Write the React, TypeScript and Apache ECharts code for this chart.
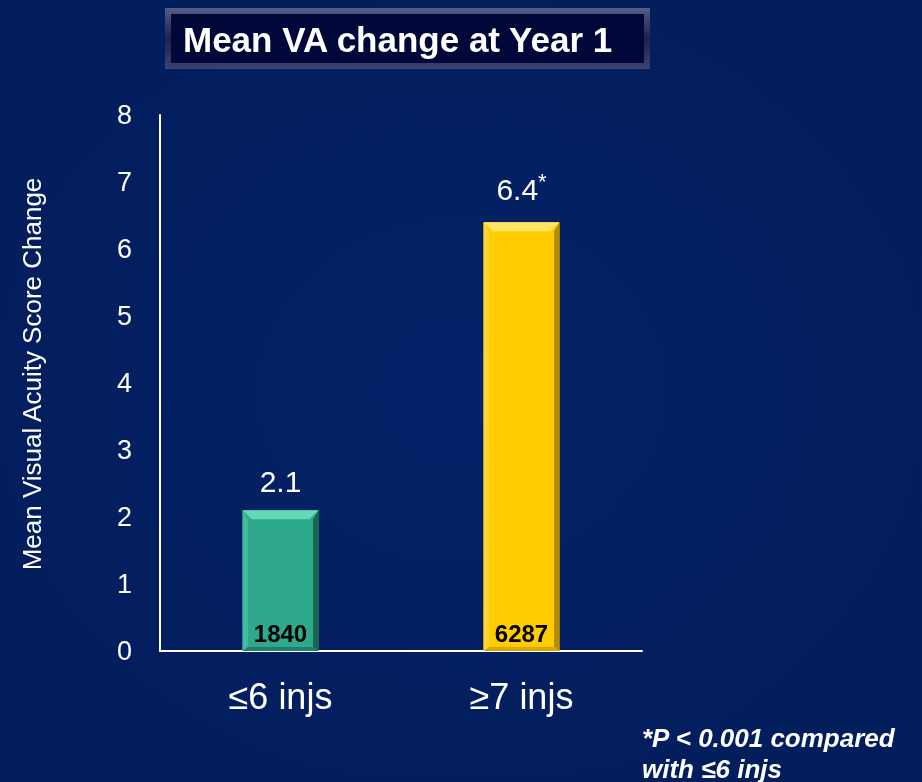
import React, { useEffect, useRef } from "react";
import * as echarts from "echarts";

const categories = ["≤6 injs", "≥7 injs"];
const meanChange = [2.1, 6.4];
const patientCounts = [1840, 6287];
const significance = ["", "*"];
const yTicks = { min: 0, max: 8, interval: 1 };

const barColors = [
  { main: "#2ea98c", top: "#63d9b8", left: "#45bb9f", right: "#176450", bottom: "#1f7f69" },
  { main: "#ffcc00", top: "#ffe566", left: "#ffd633", right: "#b58c00", bottom: "#d9a800" },
];

export default function App() {
  const ref = useRef<HTMLDivElement>(null);
  useEffect(() => {
    const chart = echarts.init(ref.current!, null, { renderer: "svg" });
    const BW = 0.315;
    const FF = "'Liberation Sans', Arial, sans-serif";
    chart.setOption({
      animation: false,
      backgroundColor: {
        type: "radial",
        x: 0.5,
        y: 0.5,
        r: 0.8,
        colorStops: [
          { offset: 0, color: "#042268" },
          { offset: 1, color: "#021c58" },
        ],
      },
      textStyle: { fontFamily: FF },
      graphic: [
        {
          type: "rect",
          shape: { x: 165, y: 8, width: 485, height: 61 },
          style: {
            fill: {
              type: "linear",
              x: 0, y: 0, x2: 0, y2: 1,
              colorStops: [
                { offset: 0, color: "#555c86" },
                { offset: 0.5, color: "#1c2152" },
                { offset: 1, color: "#3c4270" },
              ],
            },
          },
          z: 1,
        },
        {
          type: "rect",
          shape: { x: 171, y: 14, width: 473, height: 49 },
          style: { fill: "#020739" },
          z: 2,
        },
        {
          type: "text",
          x: 183,
          y: 39,
          style: {
            text: "Mean VA change at Year 1",
            fill: "#ffffff",
            font: "bold 35px " + FF,
            verticalAlign: "middle",
          },
          z: 3,
        },
        {
          type: "text",
          x: 32,
          y: 374,
          rotation: Math.PI / 2,
          style: {
            text: "Mean Visual Acuity Score Change",
            fill: "#ffffff",
            font: "26px " + FF,
            align: "center",
            verticalAlign: "middle",
          },
        },
        {
          type: "text",
          x: 642,
          y: 722,
          style: {
            text: "*P < 0.001 compared\nwith ≤6 injs",
            fill: "#ffffff",
            font: "italic bold 26px " + FF,
            lineHeight: 31,
          },
        },
      ],
      grid: { left: 160, right: 280, top: 115, bottom: 131, containLabel: false },
      xAxis: {
        type: "category",
        data: categories,
        axisLine: { lineStyle: { color: "#ffffff", width: 2 } },
        axisTick: { show: false },
        axisLabel: { color: "#ffffff", fontSize: 36, margin: 27 },
      },
      yAxis: {
        type: "value",
        min: yTicks.min,
        max: yTicks.max,
        interval: yTicks.interval,
        axisLine: { show: true, lineStyle: { color: "#ffffff", width: 2 } },
        axisTick: { show: false },
        splitLine: { show: false },
        axisLabel: { color: "#ffffff", fontSize: 27, margin: 28 },
      },
      series: [
        {
          type: "bar",
          barWidth: BW * 100 + "%",
          data: meanChange.map((v, i) => ({
            value: v,
            itemStyle: { color: barColors[i].main },
          })),
          label: {
            show: true,
            position: "top",
            distance: 14,
            color: "#ffffff",
            formatter: (p: any) =>
              significance[p.dataIndex]
                ? "{v|" + p.value + "}{s|" + significance[p.dataIndex] + "}"
                : "{v|" + p.value + "}",
            rich: {
              v: { fontSize: 30, color: "#ffffff" },
              s: { fontSize: 22, color: "#ffffff", verticalAlign: "top", padding: [0, 0, 16, 0] },
            },
          },
          z: 2,
        },
        {
          type: "custom",
          data: meanChange.map((v, i) => [i, v, patientCounts[i]]),
          z: 3,
          renderItem: (params: any, api: any) => {
            const i = api.value(0);
            const v = api.value(1);
            const base = api.coord([i, 0]);
            const top = api.coord([i, v]);
            const w = api.size([1, 0])[0] * BW;
            const x0 = base[0] - w / 2;
            const x1 = base[0] + w / 2;
            const y0 = top[1];
            const y1 = base[1];
            const b = 9;
            const c = barColors[i];
            return {
              type: "group",
              children: [
                { type: "polygon", shape: { points: [[x0, y0], [x1, y0], [x1 - b, y0 + b], [x0 + b, y0 + b]] }, style: { fill: c.top } },
                { type: "polygon", shape: { points: [[x0, y0], [x0 + b * 0.6, y0 + b], [x0 + b * 0.6, y1 - 4], [x0, y1]] }, style: { fill: c.left } },
                { type: "polygon", shape: { points: [[x1, y0], [x1 - b * 0.6, y0 + b], [x1 - b * 0.6, y1 - 4], [x1, y1]] }, style: { fill: c.right } },
                { type: "polygon", shape: { points: [[x0, y1], [x0 + b * 0.6, y1 - 4], [x1 - b * 0.6, y1 - 4], [x1, y1]] }, style: { fill: c.bottom } },
                {
                  type: "text",
                  x: base[0],
                  y: y1 - 18,
                  style: {
                    text: String(api.value(2)),
                    fill: "#000000",
                    font: "bold 24px " + FF,
                    align: "center",
                    verticalAlign: "middle",
                  },
                },
              ],
            };
          },
        },
      ],
    });
    return () => chart.dispose();
  }, []);
  return <div ref={ref} style={{ width: 922, height: 782, position: "fixed", left: 0, top: 0 }} />;
}
